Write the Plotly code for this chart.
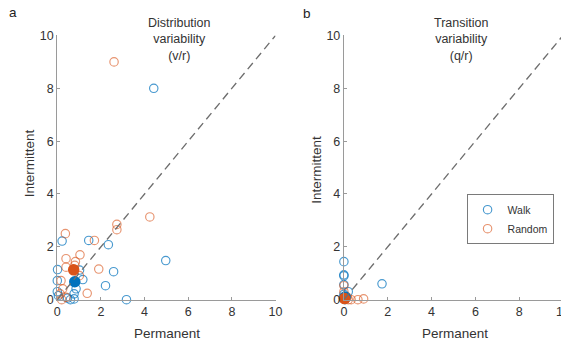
import plotly.graph_objects as go

# ---- Panel a: distribution variability (v/r) ----
a_walk_x = [4.42, 4.97, 1.44, 2.34, 0.22, 0.01, 2.58, 1.17, 0.0, 2.21, 0.86, 0.77, 0.47, 0.77, 0.0, 3.17, 1.02, 0.6, 0.05]
a_walk_y = [8.0, 1.48, 2.24, 2.08, 2.22, 1.14, 1.06, 0.76, 0.72, 0.53, 0.41, 0.22, 0.06, 0.03, 0.3, 0.0, 1.12, 0.0, 0.15]
a_rand_x = [2.6, 4.24, 2.73, 2.73, 0.37, 1.7, 1.04, 0.4, 0.83, 0.4, 1.9, 1.01, 0.17, 0.25, 1.37, 0.13, 0.4, 0.2, 0.8]
a_rand_y = [9.0, 3.13, 2.85, 2.65, 2.5, 2.24, 1.7, 1.55, 1.44, 1.23, 1.16, 0.91, 0.72, 0.41, 0.24, 0.22, 0.09, 0.0, 1.3]
a_walk_mean = (0.8, 0.68)
a_rand_mean = (0.75, 1.13)

# ---- Panel b: transition variability (q/r) ----
b_walk_x = [0.0, 0.0, 0.0, 0.0, 1.74, 0.2, 0.0, 0.1, 0.05]
b_walk_y = [1.44, 0.94, 0.9, 0.57, 0.6, 0.3, 0.2, 0.1, 0.0]
b_rand_x = [0.0, 0.33, 0.64, 0.9, 0.2, 0.1, 0.15, 0.0]
b_rand_y = [0.53, 0.0, 0.0, 0.03, 0.0, 0.05, 0.1, 0.3]
b_walk_mean = (0.05, 0.1)
b_rand_mean = (0.03, 0.04)

diag = [0, 10]
ticks = [0, 2, 4, 6, 8, 10]

BLUE = "#0072BD"
ORANGE = "#D95319"
BLUE_OPEN = "rgba(0,114,189,0.72)"
ORANGE_OPEN = "rgba(217,83,25,0.62)"
FONT = "Liberation Sans, Arial, sans-serif"

# Figure size and the grid used to place panels/labels (grid units -> paper fraction)
W, H = 570, 353


def px(x):
    return ((x - 4.0) / 0.977) / W


def py(y):
    return 1 - ((y - 7.65) / 0.956) / H


fig = go.Figure()


def add_panel(xa, ya, wx, wy, rx, ry, wm, rm, legend):
    fig.add_trace(go.Scatter(
        x=wx, y=wy, mode="markers", name="Walk", showlegend=legend,
        xaxis=xa, yaxis=ya, cliponaxis=False,
        marker=dict(symbol="circle-open", size=8.4, color=BLUE_OPEN,
                    line=dict(width=1.15, color=BLUE_OPEN))))
    fig.add_trace(go.Scatter(
        x=rx, y=ry, mode="markers", name="Random", showlegend=legend,
        xaxis=xa, yaxis=ya, cliponaxis=False,
        marker=dict(symbol="circle-open", size=8.4, color=ORANGE_OPEN,
                    line=dict(width=1.15, color=ORANGE_OPEN))))
    fig.add_trace(go.Scatter(
        x=[wm[0]], y=[wm[1]], mode="markers", showlegend=False,
        xaxis=xa, yaxis=ya, cliponaxis=False,
        marker=dict(symbol="circle", size=11.5, color=BLUE)))
    fig.add_trace(go.Scatter(
        x=[rm[0]], y=[rm[1]], mode="markers", showlegend=False,
        xaxis=xa, yaxis=ya, cliponaxis=False,
        marker=dict(symbol="circle", size=11.5, color=ORANGE)))
    # identity line
    fig.add_trace(go.Scatter(
        x=diag, y=diag, mode="lines", showlegend=False,
        xaxis=xa, yaxis=ya, hoverinfo="skip",
        line=dict(color="#6e6e6e", width=1.35, dash="8px,5px")))


add_panel("x", "y", a_walk_x, a_walk_y, a_rand_x, a_rand_y, a_walk_mean, a_rand_mean, False)
add_panel("x2", "y2", b_walk_x, b_walk_y, b_rand_x, b_rand_y, b_walk_mean, b_rand_mean, True)

axis_common = dict(
    range=[0, 10], tickvals=ticks, showgrid=False, zeroline=False,
    showline=True, linecolor="#9a9a9a", linewidth=1.2,
    ticks="inside", ticklen=3, tickcolor="#9a9a9a",
    tickfont=dict(family=FONT, size=12.5, color="#333333"),
    ticklabeloverflow="allow",
)

ydom = [py(299), py(36)]
fig.update_layout(
    width=W, height=H,
    margin=dict(l=0, r=0, t=0, b=0),
    paper_bgcolor="white", plot_bgcolor="white",
    font=dict(family=FONT, color="#333333"),
    xaxis=dict(domain=[px(58), px(275)], anchor="y", **axis_common),
    yaxis=dict(domain=ydom, anchor="x", **axis_common),
    xaxis2=dict(domain=[px(343), min(1.0, px(561))], anchor="y2", **axis_common),
    yaxis2=dict(domain=ydom, anchor="x2", **axis_common),
    legend=dict(
        x=px(465), y=py(194), xanchor="left", yanchor="top",
        bgcolor="white", bordercolor="#7a7a7a", borderwidth=1,
        font=dict(family=FONT, size=10.5, color="#333333"),
        itemwidth=30, tracegroupgap=0,
    ),
)

annotations = [
    dict(text="a", x=px(14), y=py(13), font=dict(size=13.5, color="#222")),
    dict(text="b", x=px(306), y=py(14), font=dict(size=13.5, color="#222")),
    dict(text="Distribution<br>variability<br>(v/r)", x=px(180), y=py(40),
         font=dict(size=12.5, color="#333")),
    dict(text="Transition<br>variability<br>(q/r)", x=px(459), y=py(40),
         font=dict(size=12.5, color="#333")),
    dict(text="Permanent", x=px(167), y=py(333), font=dict(size=13.5, color="#333")),
    dict(text="Permanent", x=px(453), y=py(333), font=dict(size=13.5, color="#333")),
    dict(text="Intermittent", x=px(30), y=py(163), textangle=-90,
         font=dict(size=13.5, color="#333")),
    dict(text="Intermittent", x=px(315), y=py(170), textangle=-90,
         font=dict(size=13.5, color="#333")),
]
for ann in annotations:
    fig.add_annotation(xref="paper", yref="paper", showarrow=False,
                       xanchor="center", yanchor="middle", **ann)

fig.write_html("out.html")
